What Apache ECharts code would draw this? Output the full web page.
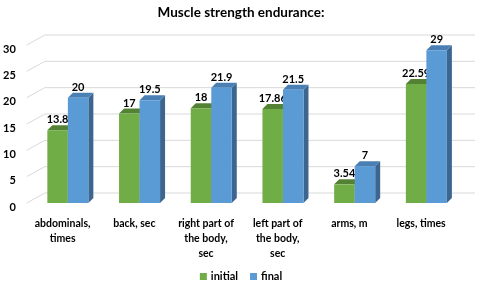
<!DOCTYPE html>
<html>
<head>
<meta charset="utf-8">
<script src="https://cdn.jsdelivr.net/npm/echarts@6/dist/echarts.min.js"></script>
<style>
  html, body { margin: 0; padding: 0; background: #fff; }
  #chart { width: 482px; height: 289px; }
</style>
</head>
<body>
<div id="chart"></div>
<script>
const categories = [
  "abdominals,\ntimes",
  "back, sec",
  "right part of\nthe body,\nsec",
  "left part of\nthe body,\nsec",
  "arms, m",
  "legs, times",
];
const initialValues = [13.8, 17, 18, 17.86, 3.54, 22.59];
const finalValues = [20, 19.5, 21.9, 21.5, 7, 29];
const yTicks = [0, 5, 10, 15, 20, 25, 30];

const FONT = "Lato, 'Liberation Sans', sans-serif";
const WALL_DX = 18, WALL_DY = -10;
const BAR_D = 5;

const chart = echarts.init(document.getElementById("chart"));

// one 3d-looking column; slot 0 = initial, slot 1 = final
function barRenderer(slot, colors) {
  return function (params, api) {
    const cat = api.value(0);
    const val = api.value(1);
    const top = api.coord([cat, val]);
    const base = api.coord([cat, 0]);
    const band = api.size([1, 0])[0];
    const w = band * 0.286;
    const x0 = top[0] - band * 0.213 + slot * w;
    const x1 = x0 + w;
    const yt = top[1], yb = base[1];
    return {
      type: "group",
      children: [
        {
          type: "polygon",
          shape: { points: [[x1, yb], [x1 + BAR_D, yb - BAR_D], [x1 + BAR_D, yt - BAR_D], [x1, yt]] },
          style: { fill: colors.side },
        },
        {
          type: "polygon",
          shape: { points: [[x0, yt], [x0 + BAR_D, yt - BAR_D], [x1 + BAR_D, yt - BAR_D], [x1, yt]] },
          style: { fill: colors.top },
        },
        {
          type: "rect",
          shape: { x: x0, y: yt, width: w, height: yb - yt },
          style: { fill: colors.front },
        },
        {
          type: "text",
          x: (x0 + x1) / 2,
          y: yt - BAR_D,
          style: {
            text: String(val),
            fill: "#000",
            font: "bold 11px " + FONT,
            align: "center",
            verticalAlign: "bottom",
          },
        },
      ],
    };
  };
}

const option = {
  animation: false,
  title: {
    text: "Muscle strength endurance:",
    left: "center",
    top: 1,
    textStyle: { fontFamily: FONT, fontSize: 13.5, fontWeight: "bold", color: "#000" },
  },
  legend: {
    bottom: 2,
    left: "center",
    icon: "rect",
    itemWidth: 7,
    itemHeight: 7,
    itemGap: 12,
    data: ["initial", "final"],
    textStyle: { fontFamily: FONT, fontSize: 11, fontWeight: "bold", color: "#000", padding: [0, 0, 0, -1] },
  },
  grid: { left: 25, right: 25, top: 45, bottom: 86 },
  xAxis: {
    type: "category",
    data: categories,
    axisLine: { show: false },
    axisTick: { show: false },
    splitLine: { show: false },
    axisLabel: {
      interval: 0,
      margin: 13,
      color: "#000",
      fontFamily: FONT,
      fontSize: 10.5,
      fontWeight: "bold",
      lineHeight: 15,
    },
  },
  yAxis: {
    type: "value",
    min: 0,
    max: 30,
    interval: 5,
    axisLine: { show: false },
    axisTick: { show: false },
    splitLine: { show: false },
    axisLabel: {
      margin: 11,
      verticalAlign: "top",
      lineHeight: 8,
      color: "#000",
      fontFamily: FONT,
      fontSize: 11,
      fontWeight: "bold",
    },
  },
  series: [
    {
      type: "custom",
      name: "walls",
      silent: true,
      z: 0,
      data: yTicks.map((t) => [0, t]),
      renderItem: function (params, api) {
        const cs = params.coordSys;
        const y = api.coord([0, api.value(1)])[1];
        return {
          type: "polyline",
          shape: {
            points: [
              [cs.x, y],
              [cs.x + WALL_DX, y + WALL_DY],
              [cs.x + cs.width + WALL_DX, y + WALL_DY],
            ],
          },
          style: { stroke: "#d9d9d9", lineWidth: 1, fill: null },
        };
      },
    },
    {
      type: "custom",
      name: "initial",
      z: 2,
      itemStyle: { color: "#70ad47" },
      data: initialValues.map((v, i) => [i, v]),
      renderItem: barRenderer(0, { front: "#70ad47", top: "#548235", side: "#4e7a30" }),
    },
    {
      type: "custom",
      name: "final",
      z: 3,
      itemStyle: { color: "#5b9bd5" },
      data: finalValues.map((v, i) => [i, v]),
      renderItem: barRenderer(1, { front: "#5b9bd5", top: "#4a7fb3", side: "#3c6690" }),
    },
  ],
};

chart.setOption(option);
</script>
</body>
</html>
